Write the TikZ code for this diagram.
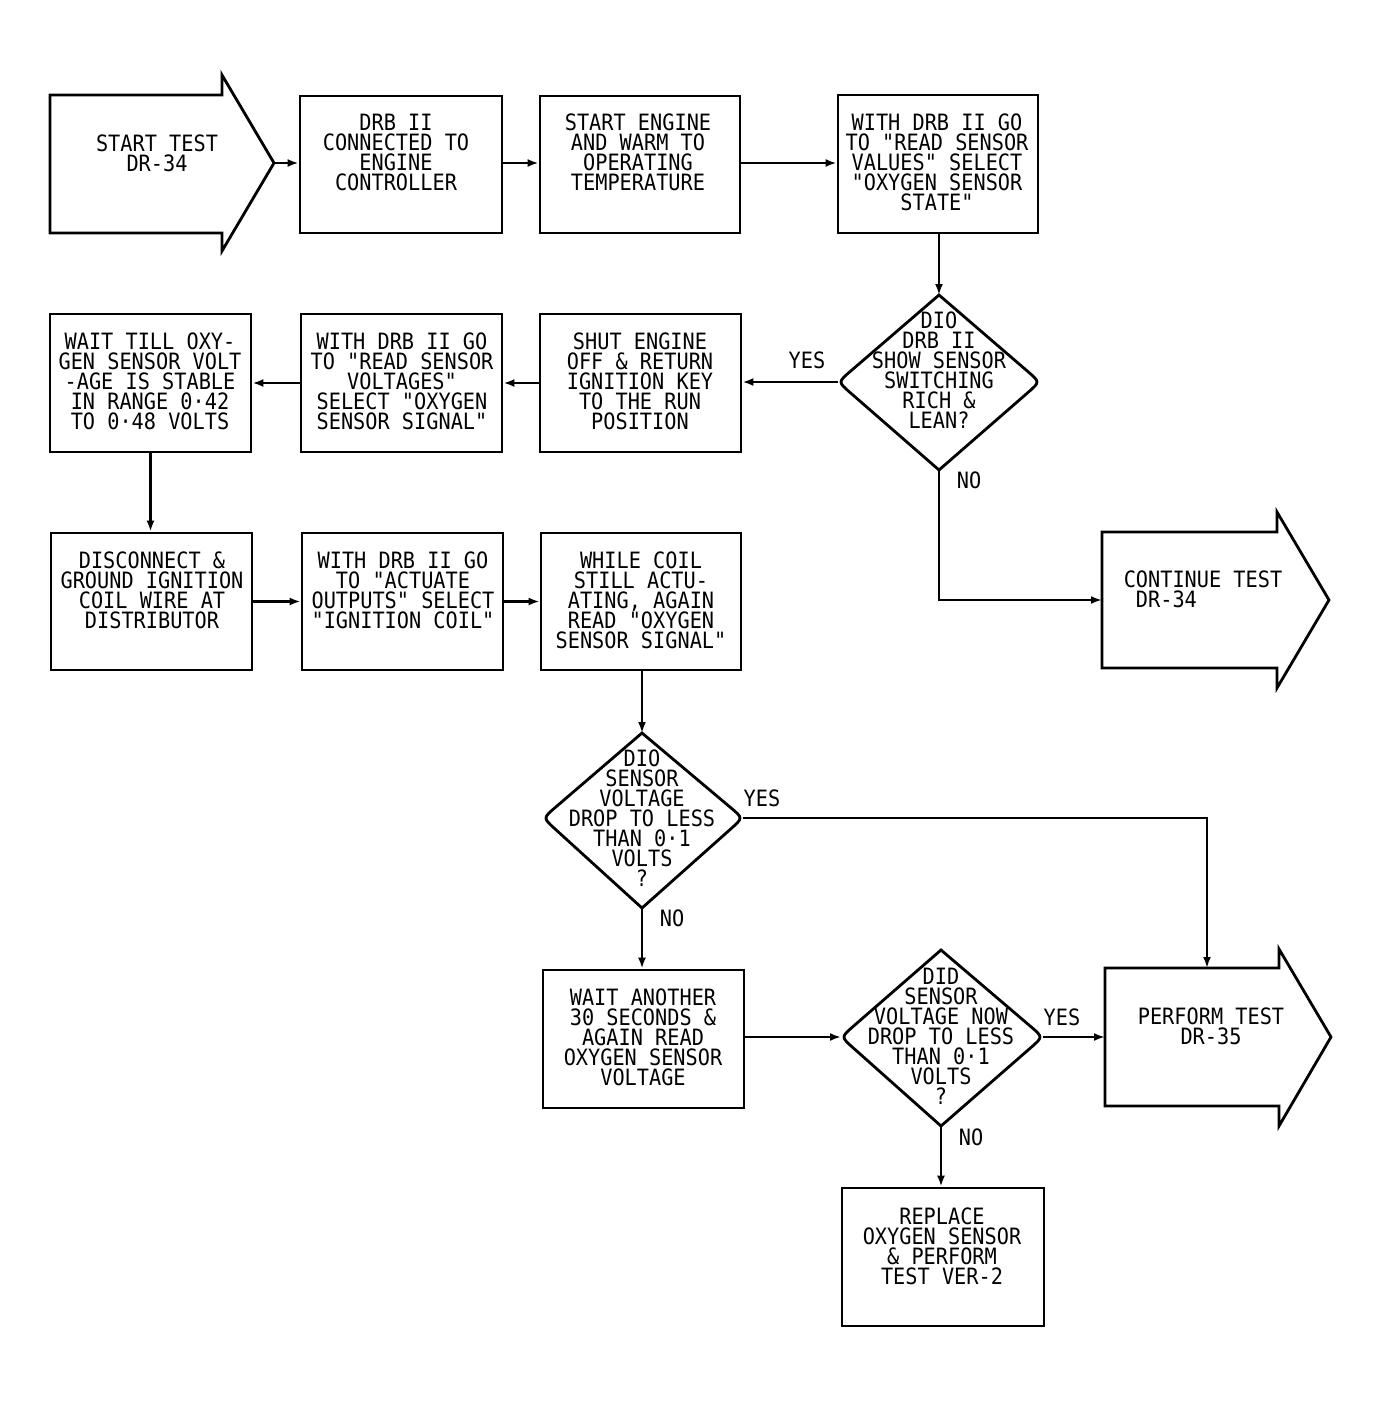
\documentclass[tikz,border=0pt]{standalone}
\usepackage{fontspec}
\newfontfamily\diagfont{DejaVu Sans Mono}[FakeStretch=0.9]
\usetikzlibrary{arrows.meta,calc}
\begin{document}
\begin{tikzpicture}[x=1pt,y=-1pt,
  outline/.style={draw=black, line width=2.8pt, line join=miter},
  box/.style={outline, rectangle, inner sep=0pt, minimum width=#1, minimum height=138pt},
  box/.default=201pt,
  txt/.style={font=\diagfont\fontsize{22.5}{20}\selectfont, align=center, inner sep=0pt},
  lbl/.style={font=\diagfont\fontsize{22.5}{20}\selectfont, inner sep=0pt},
  arr/.style={draw=black, line width=2.2pt, -{Latex[length=11pt,width=8pt]}},
  plain/.style={draw=black, line width=2.2pt}
]
\useasboundingbox (0,0) rectangle (1386,1409);
\fill[white] (0,0) rectangle (1386,1409);

% ---------- start arrow ----------
\draw[outline] (50,95) -- (222,95) -- (222,75) -- (274,163) -- (222,251) -- (222,233) -- (50,233) -- cycle;
\coordinate (satip) at (274,163);
\node[txt] (sa) at (157,153) {START TEST\\DR-34};

% ---------- row 1 ----------
\node[box=202pt, minimum height=137pt] (b2) at (401,164.5) {};
\node[txt] (b2t) at (396,152) {DRB II\\CONNECTED TO\\ENGINE\\CONTROLLER};
\node[box=200pt, minimum height=137pt] (b3) at (640,164.5) {};
\node[txt] (b3t) at (638,152) {START ENGINE\\AND WARM TO\\OPERATING\\TEMPERATURE};
\node[box=200pt] (b4) at (938,164) {};
\node[txt] (b4t) at (937,162) {WITH DRB II GO\\TO "READ SENSOR\\VALUES" SELECT\\"OXYGEN SENSOR\\STATE"};

% ---------- diamond 1 ----------
\coordinate (d1t) at (939,295);
\coordinate (d1l) at (838,382);
\coordinate (d1b) at (939,470);
\coordinate (d1r) at (1040,382);
\draw[outline] (d1t) -- ($(d1l)!16pt!(d1t)$) .. controls (d1l) .. ($(d1l)!16pt!(d1b)$) -- (d1b)
  -- ($(d1r)!16pt!(d1b)$) .. controls (d1r) .. ($(d1r)!16pt!(d1t)$) -- cycle;
\node[txt] (d1x) at (939,370) {DIO\\DRB II\\SHOW SENSOR\\SWITCHING\\RICH \&\\LEAN?};

% ---------- row 2 ----------
\node[box=201pt] (b5) at (150.5,383) {};
\node[txt] (b5t) at (150,381) {WAIT TILL OXY-\\GEN SENSOR VOLT\\-AGE IS STABLE\\IN RANGE 0·42\\TO 0·48 VOLTS};
\node[box=201pt] (b6) at (401.5,383) {};
\node[txt] (b6t) at (402,381) {WITH DRB II GO\\TO "READ SENSOR\\VOLTAGES"\\SELECT "OXYGEN\\SENSOR SIGNAL"};
\node[box=201pt] (b7) at (640.5,383) {};
\node[txt] (b7t) at (640,381) {SHUT ENGINE\\OFF \& RETURN\\IGNITION KEY\\TO THE RUN\\POSITION};

% ---------- continue arrow ----------
\draw[outline] (1102,532) -- (1277,532) -- (1277,512) -- (1329,600) -- (1277,688) -- (1277,668) -- (1102,668) -- cycle;
\coordinate (cain) at (1102,600);
\node[txt, align=left] (ca) at (1203,589) {CONTINUE TEST\\\ DR-34};

% ---------- row 3 ----------
\node[box=201pt, minimum height=137pt] (b8) at (151.5,601.5) {};
\node[txt] (b8t) at (152,590) {DISCONNECT \&\\GROUND IGNITION\\COIL WIRE AT\\DISTRIBUTOR};
\node[box=201pt, minimum height=137pt] (b9) at (402.5,601.5) {};
\node[txt] (b9t) at (403,590) {WITH DRB II GO\\TO "ACTUATE\\OUTPUTS" SELECT\\"IGNITION COIL"};
\node[box=200pt, minimum height=137pt] (b10) at (641,601.5) {};
\node[txt] (b10t) at (641,600) {WHILE COIL\\STILL ACTU-\\ATING, AGAIN\\READ "OXYGEN\\SENSOR SIGNAL"};

% ---------- diamond 2 ----------
\coordinate (d2t) at (642,733);
\coordinate (d2l) at (543,818);
\coordinate (d2b) at (642,908);
\coordinate (d2r) at (743,818);
\draw[outline] (d2t) -- ($(d2l)!16pt!(d2t)$) .. controls (d2l) .. ($(d2l)!16pt!(d2b)$) -- (d2b)
  -- ($(d2r)!16pt!(d2b)$) .. controls (d2r) .. ($(d2r)!16pt!(d2t)$) -- cycle;
\node[txt] (d2x) at (642,818) {DIO\\SENSOR\\VOLTAGE\\DROP TO LESS\\THAN 0·1\\VOLTS\\?};

% ---------- row 4 ----------
\node[box=201pt] (b11) at (643.5,1039) {};
\node[txt] (b11t) at (643,1037) {WAIT ANOTHER\\30 SECONDS \&\\AGAIN READ\\OXYGEN SENSOR\\VOLTAGE};

\coordinate (d3t) at (941,950);
\coordinate (d3l) at (841,1037);
\coordinate (d3b) at (941,1126);
\coordinate (d3r) at (1043,1037);
\draw[outline] (d3t) -- ($(d3l)!16pt!(d3t)$) .. controls (d3l) .. ($(d3l)!16pt!(d3b)$) -- (d3b)
  -- ($(d3r)!16pt!(d3b)$) .. controls (d3r) .. ($(d3r)!16pt!(d3t)$) -- cycle;
\node[txt] (d3x) at (941,1036) {DID\\SENSOR\\VOLTAGE NOW\\DROP TO LESS\\THAN 0·1\\VOLTS\\?};

% ---------- perform arrow ----------
\draw[outline] (1105,968) -- (1279,968) -- (1279,949) -- (1331,1037) -- (1279,1126) -- (1279,1106) -- (1105,1106) -- cycle;
\coordinate (patop) at (1207,968);
\coordinate (pain) at (1105,1037);
\node[txt] (pa) at (1211,1026) {PERFORM TEST\\DR-35};

% ---------- row 5 ----------
\node[box=202pt] (b12) at (943,1257) {};
\node[txt] (b12t) at (942,1246) {REPLACE\\OXYGEN SENSOR\\\& PERFORM\\TEST VER-2};

% ---------- connectors ----------
\draw[arr] (satip) -- (satip -| b2.west);
\draw[arr] (b2.east |- satip) -- (b3.west |- satip);
\draw[arr] (b3.east |- satip) -- (b4.west |- satip);
\draw[arr] (b4.south -| d1t) -- (d1t);
\draw[arr] (d1l) -- (d1l -| b7.east);
\draw[arr] (b7.west) -- (b6.east);
\draw[arr] (b6.west) -- (b5.east);
\draw[arr] (b5.south) -- (b5.south |- b8.north);
\draw[arr] (b8.east) -- (b9.west);
\draw[arr] (b9.east) -- (b10.west);
\draw[arr] (b10.south -| d2t) -- (d2t);
\draw[arr] (d1b) |- (cain);
\draw[arr] (d2r) -| (patop);
\draw[arr] (d2b) -- (d2b |- b11.north);
\draw[arr] (b11.east |- d3l) -- (d3l);
\draw[arr] (d3r) -- (pain);
\draw[arr] (d3b) -- (d3b |- b12.north);

% ---------- labels ----------
\node[lbl] (y1) at (807,360) {YES};
\node[lbl] (n1) at (969,480) {NO};
\node[lbl] (y2) at (762,798) {YES};
\node[lbl] (n2) at (672,918) {NO};
\node[lbl] (y3) at (1062,1017) {YES};
\node[lbl] (n3) at (971,1137) {NO};
\end{tikzpicture}
\end{document}
